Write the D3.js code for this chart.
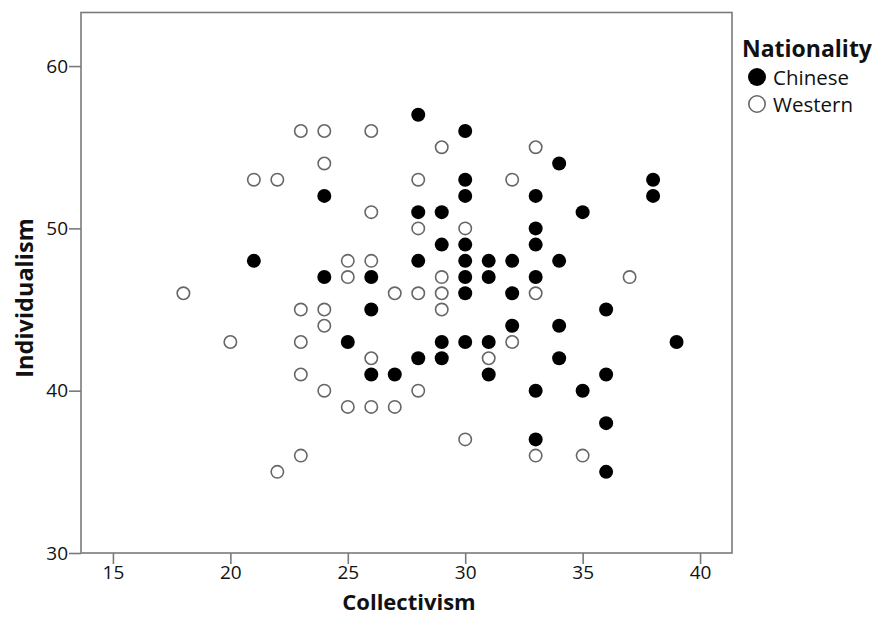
<!DOCTYPE html>
<html>
<head>
<meta charset="utf-8">
<script src="https://cdn.jsdelivr.net/npm/d3@7"></script>
<style>
  html, body { margin: 0; padding: 0; background: #fff; }
  svg { display: block; }
</style>
</head>
<body>
<svg id="chart" width="882" height="619"></svg>
<script>
// Data: [Collectivism, Individualism]
const chinese = [
  [28,57],[30,56],[34,54],[30,53],[38,53],[24,52],[30,52],[33,52],[38,52],
  [28,51],[29,51],[35,51],[33,50],[29,49],[30,49],[33,49],
  [21,48],[28,48],[30,48],[31,48],[32,48],[34,48],
  [24,47],[26,47],[30,47],[31,47],[33,47],[30,46],[32,46],[26,45],[36,45],
  [32,44],[34,44],[25,43],[29,43],[30,43],[31,43],[39,43],
  [28,42],[29,42],[34,42],[26,41],[27,41],[31,41],[36,41],
  [33,40],[35,40],[36,38],[33,37],[36,35]
];
const western = [
  [23,56],[24,56],[26,56],[29,55],[33,55],[24,54],[21,53],[22,53],[28,53],[32,53],
  [26,51],[28,50],[30,50],[25,48],[26,48],[25,47],[29,47],[37,47],
  [18,46],[27,46],[28,46],[29,46],[33,46],[23,45],[24,45],[29,45],[24,44],
  [20,43],[23,43],[32,43],[26,42],[31,42],[23,41],[24,40],[28,40],
  [25,39],[26,39],[27,39],[30,37],[23,36],[33,36],[35,36],[22,35]
];
const xTicks = [15, 20, 25, 30, 35, 40];
const yTicks = [30, 40, 50, 60];
const xDomain = [13.64, 41.36];
const yDomain = [30, 63.3];
const legendTitle = "Nationality";
const groups = ["Chinese", "Western"];
const xTitle = "Collectivism";
const yTitle = "Individualism";

const svg = d3.select("#chart");
const L = 81, R = 732, T = 12.5, B = 553;
const x = d3.scaleLinear().domain(xDomain).range([L, R]);
const y = d3.scaleLinear().domain(yDomain).range([B, T]);

const axisColor = "#7a7a7a";
const font = "'Open Sans', 'Noto Sans', sans-serif";

// frame
svg.append("rect")
  .attr("x", L).attr("y", T).attr("width", R - L).attr("height", B - T)
  .attr("fill", "none").attr("stroke", axisColor).attr("stroke-width", 1.6);

const xAxis = svg.append("g").attr("transform", `translate(0,${B})`)
  .call(d3.axisBottom(x).tickValues(xTicks).tickSize(11).tickPadding(2).tickSizeOuter(0));
const yAxis = svg.append("g").attr("transform", `translate(${L},0)`)
  .call(d3.axisLeft(y).tickValues(yTicks).tickSize(12).tickPadding(1).tickSizeOuter(0));
[xAxis, yAxis].forEach(g => {
  g.select(".domain").remove();
  g.selectAll(".tick line").attr("stroke", axisColor).attr("stroke-width", 1.6);
  g.selectAll(".tick text").attr("fill", "#111")
    .style("font-family", font).style("font-size", "19px");
});

// points
svg.append("g").selectAll("circle.w").data(western).join("circle")
  .attr("cx", d => x(d[0])).attr("cy", d => y(d[1])).attr("r", 6.2)
  .attr("fill", "#fff").attr("stroke", "#666").attr("stroke-width", 1.6);
svg.append("g").selectAll("circle.c").data(chinese).join("circle")
  .attr("cx", d => x(d[0])).attr("cy", d => y(d[1])).attr("r", 7)
  .attr("fill", "#000");

// axis titles
svg.append("text").attr("x", 409).attr("y", 610)
  .attr("text-anchor", "middle")
  .style("font-family", font).style("font-weight", "bold").style("font-size", "22px")
  .attr("fill", "#111").text(xTitle);
svg.append("text").attr("transform", `translate(33,${298}) rotate(-90)`)
  .attr("text-anchor", "middle")
  .style("font-family", font).style("font-weight", "bold").style("font-size", "23.5px")
  .attr("fill", "#111").text(yTitle);

// legend
svg.append("text").attr("x", 742).attr("y", 57)
  .style("font-family", font).style("font-weight", "bold").style("font-size", "23px")
  .attr("fill", "#111").text(legendTitle);
const lg = svg.append("g");
groups.forEach((g, i) => {
  const cy = 77 + i * 27;
  lg.append("circle").attr("cx", 757).attr("cy", cy).attr("r", g === "Chinese" ? 9 : 8.2)
    .attr("fill", g === "Chinese" ? "#000" : "#fff")
    .attr("stroke", g === "Chinese" ? "#000" : "#666").attr("stroke-width", g === "Chinese" ? 0 : 1.6);
  lg.append("text").attr("x", 773).attr("y", cy + 8)
    .style("font-family", font).style("font-size", "20.5px")
    .attr("fill", "#111").text(g);
});
</script>
</body>
</html>
